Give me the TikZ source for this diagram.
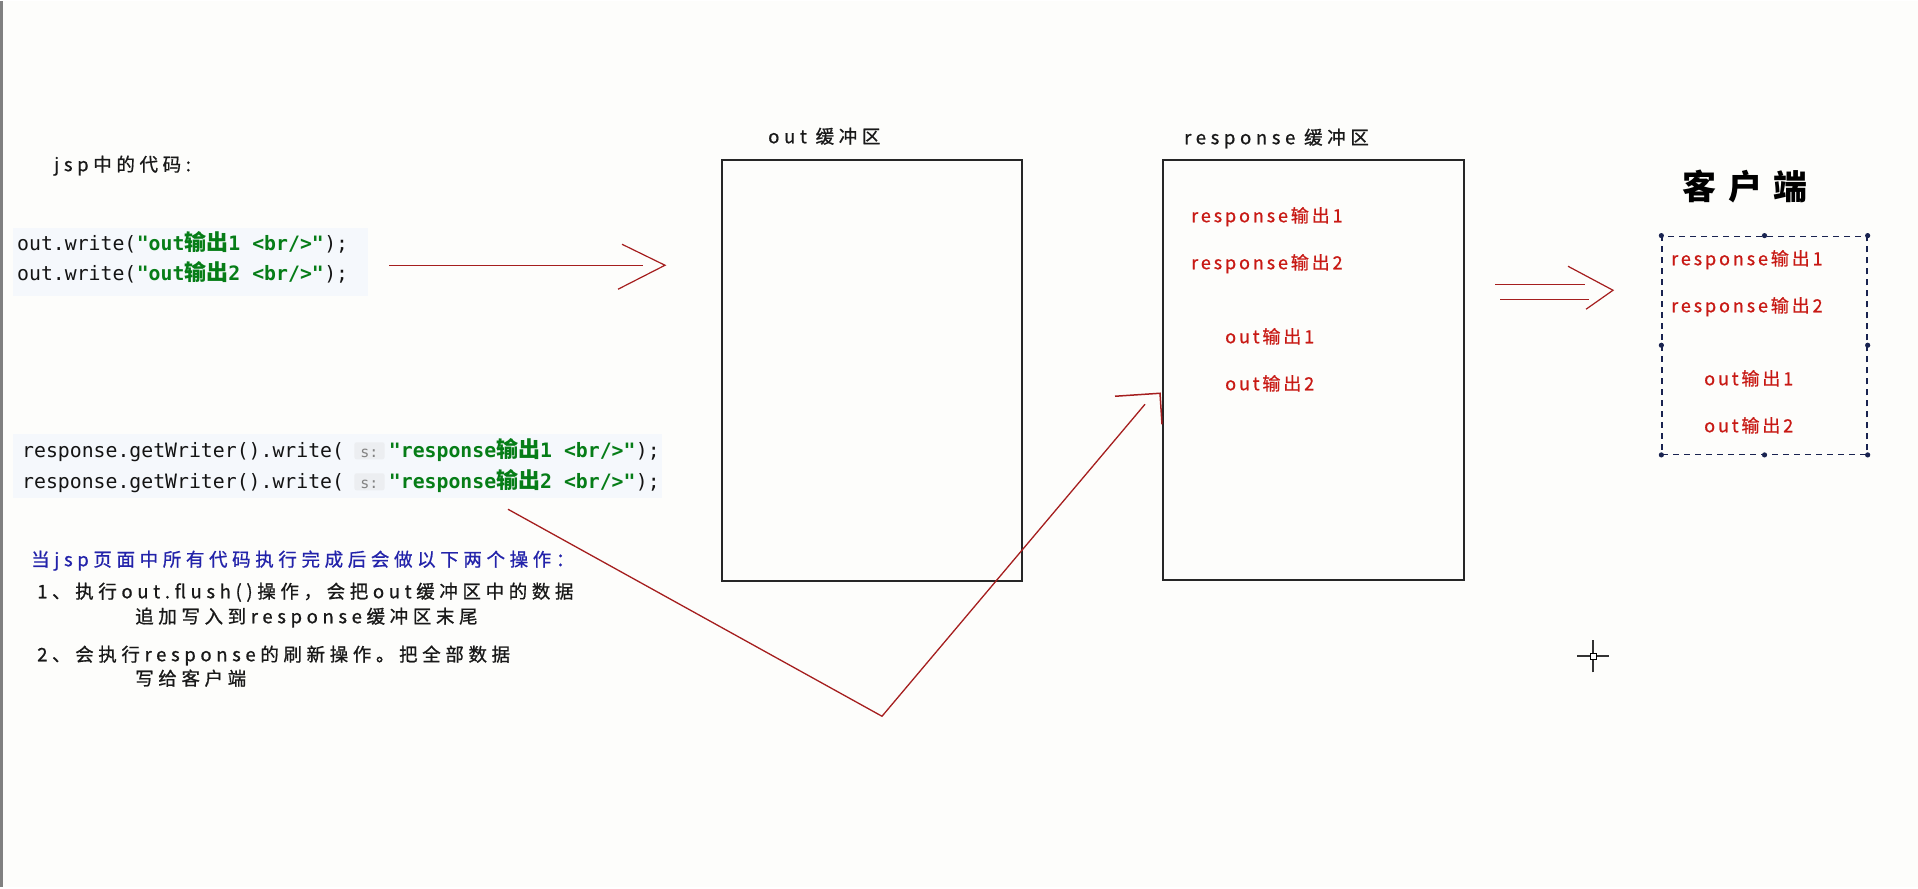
\documentclass[tikz,border=0pt]{standalone}
\usepackage{fontspec}
\usepackage{tikz}
\usetikzlibrary{calc}

\newfontfamily\zhfont[LetterSpace=25,FakeBold=0.8]{Noto Sans CJK SC}
\newfontfamily\redfont[LetterSpace=16,FakeBold=0.8]{Noto Sans CJK SC}
\newfontfamily\headfont[LetterSpace=35]{Noto Sans CJK SC}
\newfontfamily\codefont{DejaVu Sans Mono}
\newfontfamily\codezh{Noto Sans CJK SC}
\newcommand{\zhc}[1]{{\codezh\fontsize{22}{26}\selectfont #1}}

\definecolor{pagebg}{RGB}{253,253,251}
\definecolor{codebg}{RGB}{245,248,252}
\definecolor{codegreen}{RGB}{6,125,23}
\definecolor{codeink}{RGB}{20,20,20}
\definecolor{hintbg}{RGB}{236,238,241}
\definecolor{hintink}{RGB}{130,130,130}
\definecolor{inkred}{RGB}{200,25,20}
\definecolor{linered}{RGB}{165,30,30}
\definecolor{inkblue}{RGB}{35,35,170}
\definecolor{handle}{RGB}{25,35,80}

\begin{document}
\begin{tikzpicture}[x=1pt,y=-1pt,
	codeline/.style={anchor=base west,inner sep=0pt,text=codeink,font=\codefont\fontsize{19.8}{24}\selectfont},
	codestr/.style={codeline,text=codegreen,font=\codefont\bfseries\fontsize{19.8}{24}\selectfont},
	hint/.style={anchor=base west,fill=hintbg,rounded corners=2pt,inner xsep=6pt,inner ysep=2pt,text height=13pt,text depth=0pt,text=hintink,font=\codefont\fontsize{15}{18}\selectfont},
	note/.style={anchor=base west,inner sep=0pt,text=black!90,font=\zhfont\fontsize{18.5}{22}\selectfont},
	buftext/.style={anchor=base west,inner sep=0pt,text=inkred,font=\redfont\fontsize{18}{22}\selectfont},
	buffer/.style={draw=black!85,line width=1.6pt},
	sketch/.style={draw=linered,line width=1.5pt}]
	%page
	\fill[pagebg] (0,0) rectangle (1918,886);
	\draw[gray,line width=2.5pt] (1.5,0)--(1.5,886);
	%
	\fill[codebg] (13,227) rectangle (368,295);	%code block - out
	\fill[codebg] (13,433) rectangle (662,497);	%code block - response
	
	%code
	\node[note] (jsp) at (54,170) {jsp中的代码:};
	%
	\node[codeline] (o1a) at (17,249) {out.write(};
	\node[codestr] (o1b) at (o1a.base east) {"out\zhc{输出}1 <br/>"};
	\node[codeline] (o1c) at (o1b.base east) {);};
	\node[codeline] (o2a) at (17,279) {out.write(};
	\node[codestr] (o2b) at (o2a.base east) {"out\zhc{输出}2 <br/>"};
	\node[codeline] (o2c) at (o2b.base east) {);};
	%
	\node[codeline] (r1a) at (22,456) {response.getWriter().write(};
	\node[hint] (h1) at ([xshift=10pt]r1a.base east) {s:};
	\node[codestr] (r1b) at ([xshift=4pt]h1.base east) {"response\zhc{输出}1 <br/>"};
	\node[codeline] (r1c) at (r1b.base east) {);};
	\node[codeline] (r2a) at (22,487) {response.getWriter().write(};
	\node[hint] (h2) at ([xshift=10pt]r2a.base east) {s:};
	\node[codestr] (r2b) at ([xshift=4pt]h2.base east) {"response\zhc{输出}2 <br/>"};
	\node[codeline] (r2c) at (r2b.base east) {);};
	
	%buffers
	\node[buffer,minimum width=300pt,minimum height=421pt] (outbuf) at (872,369.5) {};
	\node[buffer,minimum width=301pt,minimum height=420pt] (respbuf) at (1313.5,369) {};
	\node[note] (outlbl) at (768,142) {out 缓冲区};
	\node[note] (resplbl) at (1184,143) {response 缓冲区};
	%
	\node[buftext] (rb1) at (1191,221) {response输出1};
	\node[buftext] (rb2) at (1191,268) {response输出2};
	\node[buftext] (rb3) at (1225,342) {out输出1};
	\node[buftext] (rb4) at (1225,389) {out输出2};
	
	%client
	\node[anchor=base west,inner sep=0pt,font=\headfont\bfseries\fontsize{34}{40}\selectfont] (clientlbl) at (1682,198) {客户端};
	\node[draw=handle,line width=1.3pt,dash pattern=on 6pt off 5pt,minimum width=205pt,minimum height=218pt] (client) at (1764.5,344) {};
	\foreach \a in {north west,north,north east,east,south east,south,south west,west}
		\fill[handle] (client.\a) circle (2.6pt);	%selection handles
	%
	\node[buftext] (cl1) at (1671,264) {response输出1};
	\node[buftext] (cl2) at (1671,311) {response输出2};
	\node[buftext] (cl3) at (1704,384) {out输出1};
	\node[buftext] (cl4) at (1704,431) {out输出2};
	
	%arrows
	\coordinate (a1s) at (389,264);
	\coordinate (a1e) at (643,264);
	\coordinate (a1tip) at (665,264);
	\draw[sketch] (a1s)--(a1e);
	\draw[sketch,line width=1.2pt] ([shift={(-43,-21)}]a1tip)--(a1tip)--([shift={(-47,24)}]a1tip);
	%
	\coordinate (a2s) at (1495,283);
	\coordinate (a2e) at (1585,283);
	\coordinate (a2t) at (1500,298);
	\coordinate (a2u) at (1589,298);
	\coordinate (a2tip) at (1613,289);
	\draw[sketch] (a2s)--(a2e);
	\draw[sketch] (a2t)--(a2u);
	\draw[sketch,line width=1.2pt] ([shift={(-45,-24)}]a2tip)--(a2tip)--([shift={(-27,19)}]a2tip);
	%
	\coordinate (vs) at (508,508);
	\coordinate (vb) at (882,715);
	\coordinate (ve) at (1145,403);
	\coordinate (hk) at (1160,392);
	\draw[sketch,line width=1.3pt] (vs)--(vb)--(ve);	%flush path
	\draw[sketch] ([shift={(-45,3)}]hk)--(hk)--([shift={(2,31)}]hk);	%hand-drawn tip
	
	%notes
	\node[note,text=inkblue] (step0) at (31,565) {当jsp页面中所有代码执行完成后会做以下两个操作：};
	\node[note] (step1) at (37,597) {1、执行out.flush()操作，会把out缓冲区中的数据};
	\node[note] (step1b) at (135,622) {追加写入到response缓冲区末尾};
	\node[note] (step2) at (37,660) {2、会执行response的刷新操作。把全部数据};
	\node[note] (step2b) at (135,684) {写给客户端};
	
	%cursor
	\coordinate (cursor) at (1593,655);
	\draw[black!80,line width=1.8pt] ([xshift=-16pt]cursor)--([xshift=16pt]cursor) ([yshift=-16pt]cursor)--([yshift=16pt]cursor);
	\filldraw[fill=white,draw=black,line width=1pt] ([shift={(-3,-3)}]cursor) rectangle ([shift={(3,3)}]cursor);
\end{tikzpicture}
\end{document}
